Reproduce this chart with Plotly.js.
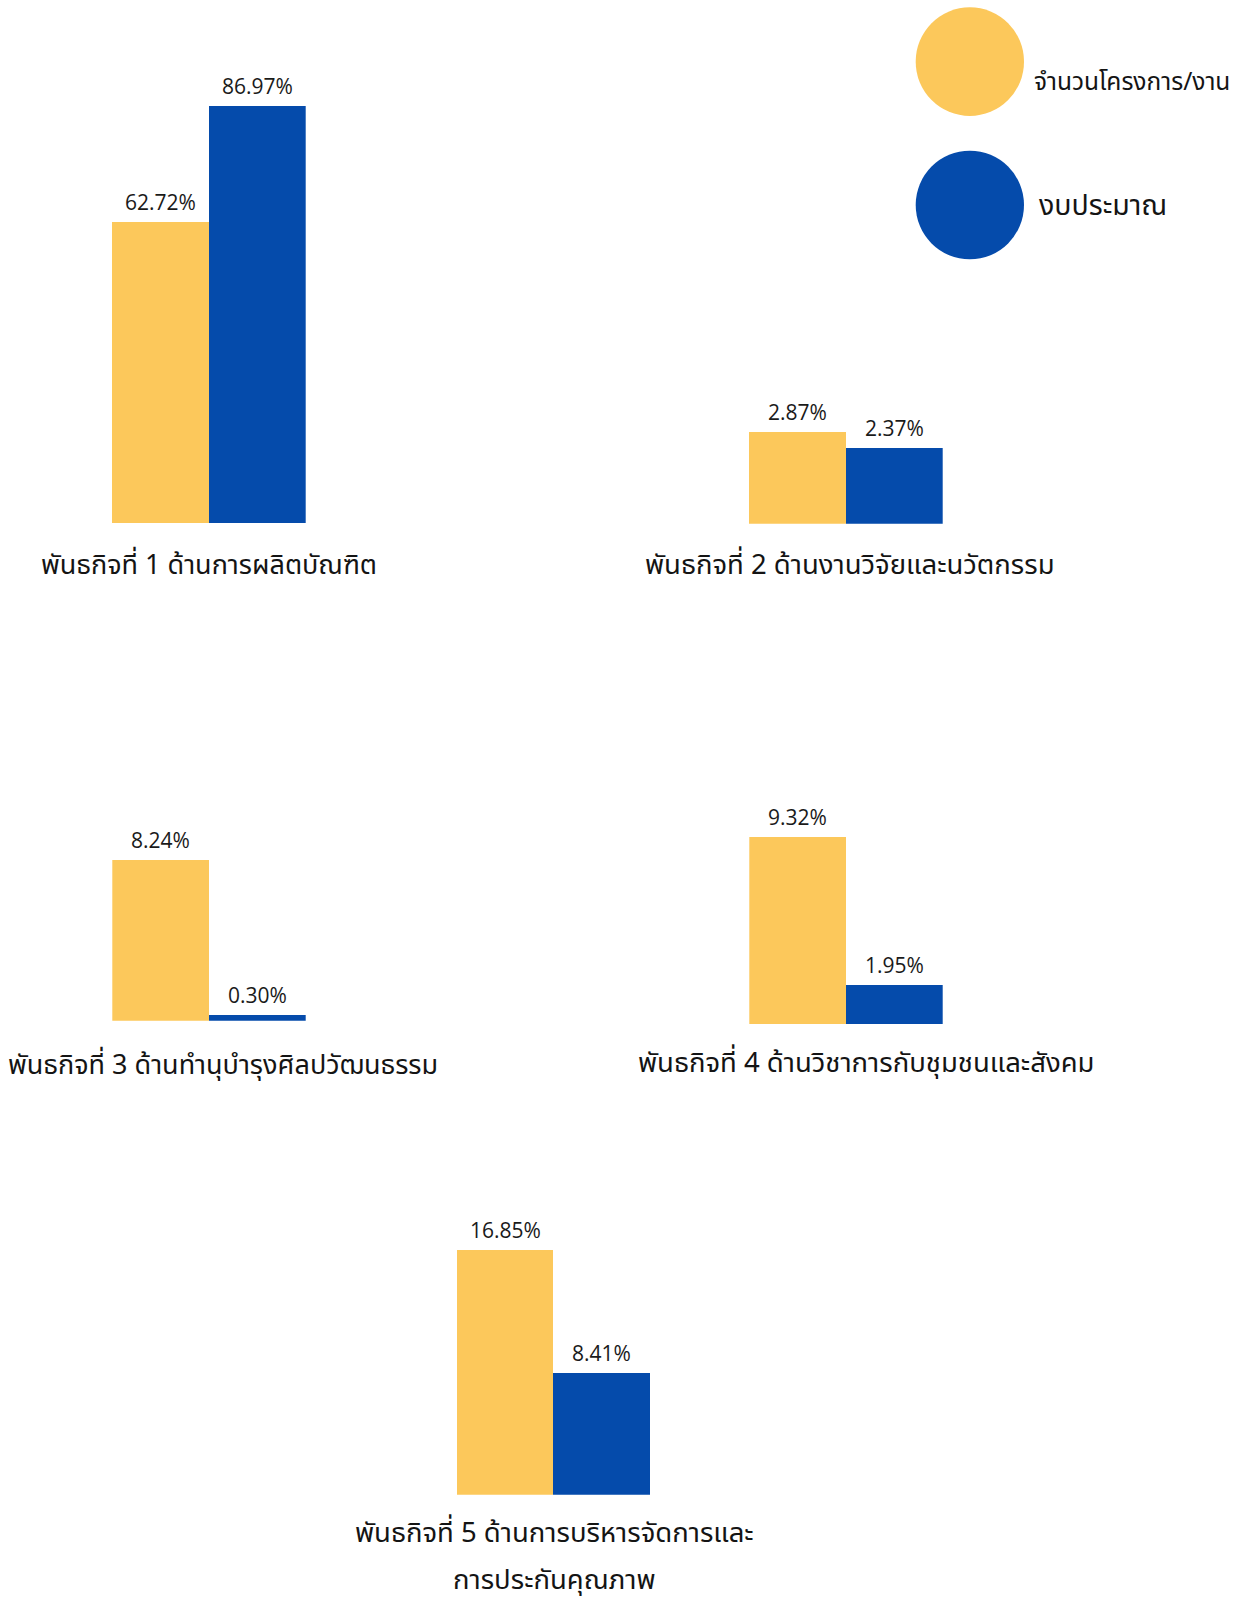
<!DOCTYPE html>
<html>
<head>
<meta charset="utf-8">
<script src="https://cdn.plot.ly/plotly-3.0.1.min.js"></script>
<style>
  html, body { margin: 0; padding: 0; background: #ffffff; }
  #chart { width: 1244px; height: 1602px; }
</style>
</head>
<body>
<div id="chart"></div>
<script>
// ---- data ----
const seriesNames = ['จำนวนโครงการ/งาน', 'งบประมาณ'];
const categories = [
  'พันธกิจที่ 1 ด้านการผลิตบัณฑิต',
  'พันธกิจที่ 2 ด้านงานวิจัยและนวัตกรรม',
  'พันธกิจที่ 3 ด้านทำนุบำรุงศิลปวัฒนธรรม',
  'พันธกิจที่ 4 ด้านวิชาการกับชุมชนและสังคม',
  'พันธกิจที่ 5 ด้านการบริหารจัดการและการประกันคุณภาพ'
];
const projectShare = [62.72, 2.87, 8.24, 9.32, 16.85];
const budgetShare  = [86.97, 2.37, 0.30, 1.95, 8.41];

// ---- layout / style ----
const W = 1244, H = 1602;
const COLORS = ['#FCC85B', '#054BAB'];
const THAI = '"Noto Sans Thai", "Noto Sans Thai UI", Tahoma, "Leelawadee UI", "Noto Sans", sans-serif';
const NUMF = '"Open Sans", "Noto Sans", sans-serif';

// pixel boxes of each small chart (x0,x1 = bar area; yTop,yBot = plot area; yMax = axis max)
const panels = [
  { x0: 112,   x1: 305.7, yTop: 80,   yBot: 523.3,  yMax: 92.32, tx: 209,   ty: 565,  fs: 27 },
  { x0: 749,   x1: 942.7, yTop: 400,  yBot: 523.7,  yMax: 3.885, tx: 850,   ty: 565,  fs: 27.5 },
  { x0: 112.3, x1: 305.7, yTop: 800,  yBot: 1020.7, yMax: 11.35, tx: 223,   ty: 1065, fs: 27 },
  { x0: 749.3, x1: 942.7, yTop: 800,  yBot: 1024,   yMax: 11.14, tx: 865.5, ty: 1063, fs: 27.5 },
  { x0: 456.7, x1: 650,   yTop: 1200, yBot: 1494.7, yMax: 20.30, tx: 554,   ty: 1533, fs: 27.5 }
];

const px = v => v / W;
const py = v => 1 - v / H;

const traces = [];
const layout = {
  width: W, height: H,
  margin: { l: 0, r: 0, t: 0, b: 0 },
  paper_bgcolor: '#ffffff', plot_bgcolor: '#ffffff',
  showlegend: false,
  barmode: 'overlay',
  bargap: 0,
  annotations: [],
  shapes: []
};

panels.forEach((p, i) => {
  const n = i === 0 ? '' : String(i + 1);
  const xa = 'x' + n, ya = 'y' + n;
  layout['xaxis' + n] = {
    domain: [px(p.x0), px(p.x1)], anchor: ya,
    type: 'category', categoryorder: 'array', categoryarray: seriesNames,
    range: [-0.5, 1.5], visible: false, fixedrange: true
  };
  layout['yaxis' + n] = {
    domain: [py(p.yBot), py(p.yTop)], anchor: xa,
    range: [0, p.yMax], visible: false, fixedrange: true
  };
  const vals = [projectShare[i], budgetShare[i]];
  vals.forEach((v, s) => {
    traces.push({
      type: 'bar', x: [seriesNames[s]], y: [v], xaxis: xa, yaxis: ya,
      width: 1, name: seriesNames[s],
      marker: { color: COLORS[s], line: { width: 0 } },
      hoverinfo: 'skip'
    });
    layout.annotations.push({
      xref: xa, yref: ya, x: seriesNames[s], y: v,
      yanchor: 'middle', xanchor: 'center', yshift: 20,
      text: v.toFixed(2) + '%', showarrow: false,
      font: { family: NUMF, size: 21, color: '#1a1a1a' }
    });
  });
  // panel title
  let lines = [categories[i]];
  if (i === 4) {
    const cut = categories[i].indexOf('และ') + 'และ'.length;
    lines = [categories[i].slice(0, cut), categories[i].slice(cut)];
  }
  lines.forEach((t, k) => {
    layout.annotations.push({
      xref: 'paper', yref: 'paper', x: px(p.tx), y: py(p.ty + k * 47),
      xanchor: 'center', yanchor: 'middle', showarrow: false,
      text: t, font: { family: THAI, size: p.fs, color: '#141414' }
    });
  });
});

// legend (circles + labels)
const legend = [
  { cx0: 915.7, cx1: 1024, cy0: 7.3,   cy1: 116,   tx: 1031.7, ty: 82,    size: 24.5 },
  { cx0: 915.7, cx1: 1024, cy0: 150.7, cy1: 259.3, tx: 1037,   ty: 206.7, size: 28.5 }
];
legend.forEach((l, s) => {
  layout.shapes.push({
    type: 'circle', xref: 'paper', yref: 'paper',
    x0: px(l.cx0), x1: px(l.cx1), y0: py(l.cy1), y1: py(l.cy0),
    fillcolor: COLORS[s], line: { width: 0 }
  });
  layout.annotations.push({
    xref: 'paper', yref: 'paper', x: px(l.tx), y: py(l.ty),
    xanchor: 'left', yanchor: 'middle', showarrow: false,
    text: seriesNames[s], font: { family: THAI, size: l.size, color: '#141414' }
  });
});

Plotly.newPlot('chart', traces, layout, { displayModeBar: false, staticPlot: true });
</script>
</body>
</html>
